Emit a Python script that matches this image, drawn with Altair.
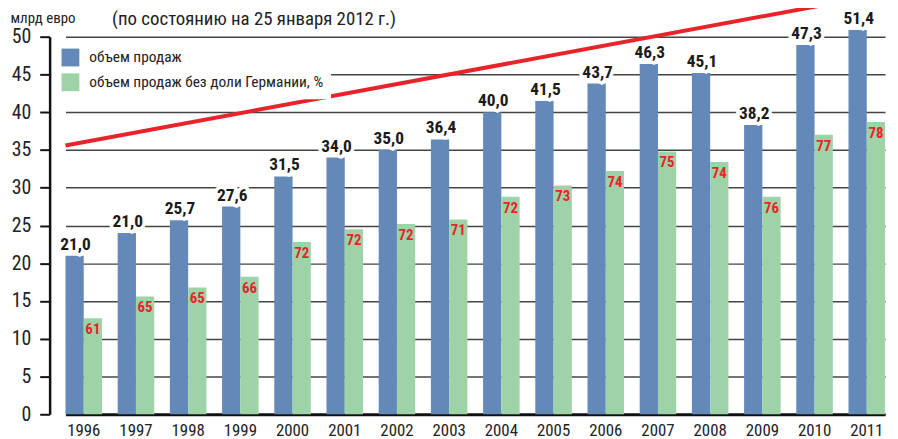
import altair as alt
import pandas as pd

years = [str(y) for y in range(1996, 2012)]
sales = [21.0, 24.0, 25.7, 27.5, 31.5, 34.0, 35.0, 36.4, 40.0, 41.5, 43.8, 46.4, 45.2, 38.3, 48.9, 50.9]
sales_labels = ["21,0", "21,0", "25,7", "27,6", "31,5", "34,0", "35,0", "36,4",
                "40,0", "41,5", "43,7", "46,3", "45,1", "38,2", "47,3", "51,4"]
ex_germany = [12.7, 15.6, 16.8, 18.2, 22.8, 24.5, 25.2, 25.8, 28.8, 30.3, 32.2, 34.8, 33.4, 28.8, 37.0, 38.7]
pct_labels = ["61", "65", "65", "66", "72", "72", "72", "71", "72", "73", "74", "75", "74", "76", "77", "78"]
series = ["объем продаж", "объем продаж без доли Германии, %"]
trend_years = ["1996", "2011"]
trend_values = [35.6, 54.8]
subtitle = "(по состоянию на 25 января 2012 г.)"
unit = "млрд евро"

FONT = "Roboto Condensed, Liberation Sans Narrow, DejaVu Sans Condensed, sans-serif"
BLUE, GREEN, RED = "#6389b8", "#9dd3a6", "#e8232a"

rows = []
for i, yr in enumerate(years):
    rows.append({"year": yr, "series": series[0], "value": sales[i], "label": sales_labels[i]})
    rows.append({"year": yr, "series": series[1], "value": ex_germany[i], "label": pct_labels[i]})
df = pd.DataFrame(rows)
trend = pd.DataFrame({"year": trend_years, "value": trend_values})

xscale = alt.Scale(range=[16, 843], paddingInner=0.3, paddingOuter=0)
xaxis = alt.Axis(labelAngle=0, ticks=False, domainColor="#111", domainWidth=3,
                 labelFont=FONT, labelFontSize=17, labelColor="#222",
                 labelPadding=8, grid=False)
x = alt.X("year:N", title=None, scale=xscale, axis=xaxis)
xoff = alt.XOffset("series:N", sort=series, scale=alt.Scale(paddingInner=0, paddingOuter=0))
yaxis = alt.Axis(values=list(range(0, 55, 5)), grid=True, gridColor="#444", gridWidth=1.5,
                 domainColor="#111", domainWidth=2.5, tickColor="#111", tickSize=10,
                 tickWidth=2, labelFont=FONT, labelFontSize=20, labelColor="#222",
                 labelPadding=9, labelOverlap=False, title=unit, titleAngle=0,
                 titleX=-40, titleY=-14, titleAlign="left", titleBaseline="alphabetic",
                 titleFont=FONT, titleFontSize=15, titleFontWeight="normal", titleColor="#222")
y = alt.Y("value:Q", title=unit, scale=alt.Scale(domain=[0, 50], nice=False), axis=yaxis)

base = alt.Chart(df).encode(x=x, xOffset=xoff)

bars = base.mark_bar().encode(
    y=y,
    color=alt.Color("series:N", scale=alt.Scale(domain=series, range=[BLUE, GREEN]),
                    legend=alt.Legend(title=None, orient="none", legendX=4, legendY=4,
                                      fillColor="white", padding=8, symbolType="square",
                                      symbolSize=324, symbolStrokeWidth=0, labelLimit=400,
                                      labelFont=FONT, labelFontSize=15.5, labelColor="#222",
                                      labelOffset=10, rowPadding=7)),
)

blue_base = base.transform_filter(alt.datum.series == series[0])
knock = blue_base.mark_text(font=FONT, fontSize=17.5, fontWeight="bold", baseline="alphabetic",
                            dy=-6, dx=1, stroke="white", strokeWidth=7, color="white").encode(
    y=y, text="label:N")
blue_text = blue_base.mark_text(font=FONT, fontSize=17.5, fontWeight="bold", baseline="alphabetic",
                                dy=-6, dx=1, color="#1a1a1a").encode(y=y, text="label:N")
green_text = base.transform_filter(alt.datum.series == series[1]).mark_text(
    font=FONT, fontSize=15, fontWeight="bold", baseline="top", dy=4, color=RED).encode(
    y=y, text="label:N")

line = alt.Chart(trend).mark_line(color=RED, strokeWidth=4).encode(
    x=alt.X("year:N", title=None, scale=xscale, axis=xaxis, bandPosition=0), y=y)

sub = alt.Chart(alt.Data(values=[{}])).mark_text(
    font=FONT, fontSize=19, align="left", baseline="alphabetic", color="#222").encode(
    x=alt.value(63), y=alt.value(-12), text=alt.value(subtitle))

chart = alt.layer(bars, knock, blue_text, green_text, line, sub).properties(
    width=848, height=381,
    autosize=alt.AutoSizeParams(type="none"),
    padding={"left": 42, "top": 27, "right": 0, "bottom": 23},
    background="white",
).configure_view(stroke=None)

chart.save("out.html", embed_options={"renderer": "svg", "actions": False})
